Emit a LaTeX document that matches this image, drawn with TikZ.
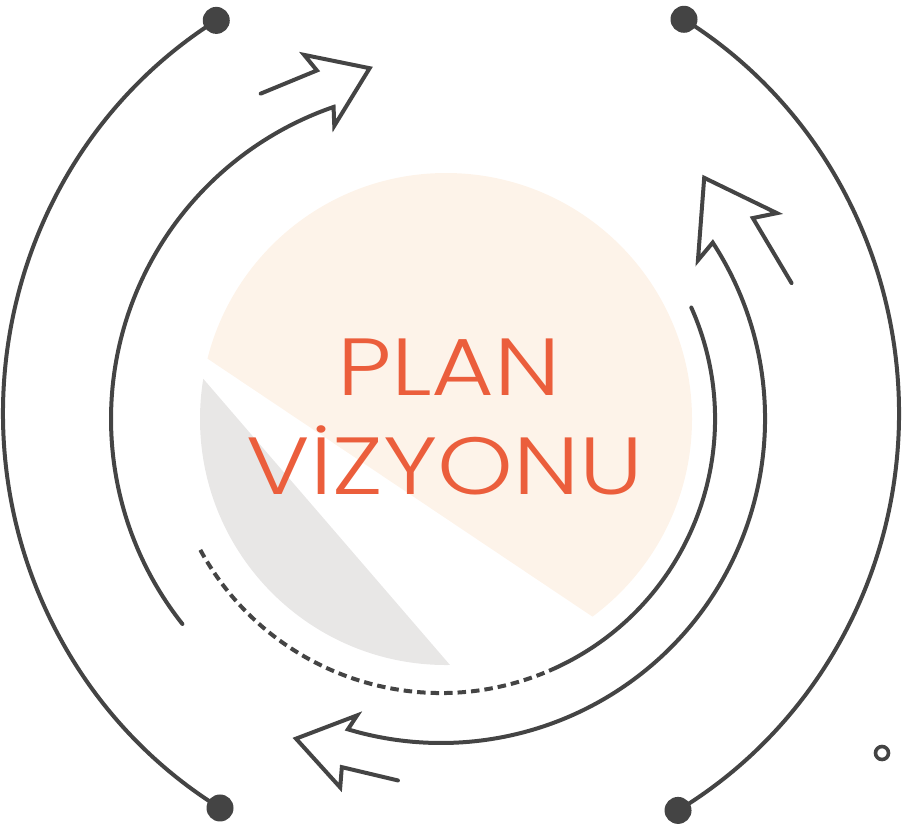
\documentclass[tikz,border=0pt]{standalone}
\usepackage{fontspec}
\setmainfont{Poppins}[UprightFont=* Light, FakeStretch=1.19]
\definecolor{ink}{RGB}{68,68,68}
\definecolor{peach}{RGB}{253,243,233}
\definecolor{ash}{RGB}{232,231,230}
\definecolor{rust}{RGB}{235,94,60}
\begin{document}
\begin{tikzpicture}[x=1pt,y=-1pt,
  line/.style={draw=ink,line width=4pt,line cap=round,line join=miter,miter limit=10},
  dashline/.style={draw=ink,line width=4pt,line cap=butt,dash pattern=on 8.5pt off 5pt},
  dot/.style={circle,fill=ink,inner sep=0pt,minimum size=27pt},
  title/.style={text=rust,font=\fontsize{81}{81}\selectfont,inner sep=0pt,anchor=base}]
\useasboundingbox (0,0) rectangle (904,833);
% pie circle
\begin{scope}
  \clip (446,419) circle[radius=246];
  \fill[peach] (150,320.1) -- (750,722.2) -- (750,150) -- (150,150) -- cycle;
  \fill[ash] (150,317) -- (550,781) -- (150,781) -- cycle;
\end{scope}
\node[title] (plan) at (449,395) {PLAN};
\node[title] (viz) at (445,494) {VİZYONU};
% circular arrows
\begin{scope}[shift={(441,419)}]
  \coordinate (aS) at (-218.4:330);
  \coordinate (bS) at (-21.2:376);
  \coordinate (cS) at (-24:274);
  \coordinate (cM) at (65:274);
  \draw[line] (aS) arc[start angle=-218.4, end angle=-109, radius=330]
     -- (-110:312) -- (-101.5:358) -- (-110.6:389) -- (-109.6:370) -- (-119:372);
  \draw[line] (bS) -- (-32.8:371) -- (-31.5:394) -- (-42.5:357) -- (-31.7:302)
     -- (-33:324) arc[start angle=-33, end angle=106.7, radius=324]
     -- (105.8:308) -- (114.4:351) -- (105.3:382) -- (105.9:362) -- (96.8:364);
  \draw[line] (cS) arc[start angle=-24, end angle=65, radius=274];
  \draw[dashline] (cM) arc[start angle=65, end angle=152.4, radius=274];
\end{scope}
% outer brackets
\begin{scope}[shift={(451,413)}]
  \node[dot] (tl) at (-121.6:448 and 461) {};
  \node[dot] (bl) at (-238.96:448 and 461) {};
  \node[dot] (tr) at (-58.66:448 and 461) {};
  \node[dot] (br) at (59.55:448 and 461) {};
  \draw[line] (tl.center) arc[start angle=-121.6, end angle=-238.96, x radius=448, y radius=461];
  \draw[line] (tr.center) arc[start angle=-58.66, end angle=59.55, x radius=448, y radius=461];
\end{scope}
\node[draw=ink,line width=3.6pt,circle,inner sep=0pt,minimum size=13pt] (ring) at (882,753) {};
\end{tikzpicture}
\end{document}
